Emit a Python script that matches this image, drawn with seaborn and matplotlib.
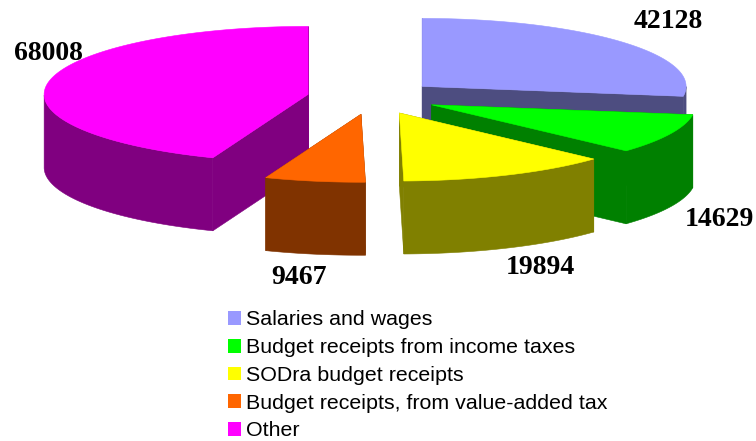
import numpy as np
import matplotlib.pyplot as plt
from matplotlib.patches import Patch
import seaborn as sns

categories = ['Salaries and wages', 'Budget receipts from income taxes', 'SODra budget receipts',
              'Budget receipts, from value-added tax', 'Other']
values = [42128, 14629, 19894, 9467, 68008]
top_colors = ['#9999FF', '#00FF00', '#FFFF00', '#FF6600', '#FF00FF']
side_colors = ['#4D4D80', '#008000', '#808000', '#803300', '#800080']

sns.set_theme(style='white')
plt.rcParams['font.family'] = ['Liberation Sans', 'DejaVu Sans']

# pie geometry in figure pixels
cx, cy = 372.5, 97.5
rx, ry = 264, 68
ex, ey = 65.5, 17  # how far slices are pulled out
depth = 73

fig, ax = plt.subplots(figsize=(7.56, 4.41), dpi=100)
ax.set_position([0, 0, 1, 1])
ax.set_xlim(0, 756)
ax.set_ylim(441, 0)
ax.axis('off')

top_pal = sns.color_palette(top_colors)
side_pal = sns.color_palette(side_colors)

# angles clockwise from north
edges = np.cumsum([0] + values) / sum(values) * 2 * np.pi


def px(a, x0, y0):
    return x0 + rx * np.sin(a), y0 - ry * np.cos(a)


def draw_slice(i):
    a0, a1 = edges[i], edges[i + 1]
    m = (a0 + a1) / 2
    x0 = cx + ex * np.sin(m)
    y0 = cy - ey * np.cos(m)
    t = np.linspace(a0, a1, 120)
    xs, ys = px(t, x0, y0)
    edge_kw = dict(color=side_pal[i], lw=0.4, zorder=i_z[i])

    # cut faces, the one further back first
    faces = sorted([a0, a1], key=lambda a: px(a, x0, y0)[1])
    for a in faces:
        fx, fy = px(a, x0, y0)
        ax.fill([x0, fx, fx, x0], [y0, fy, fy + depth, y0 + depth], **edge_kw)
    # outer wall, only the part that faces the viewer
    front = np.cos(t) <= 0
    if front.any():
        ax.fill(np.r_[xs[front], xs[front][::-1]], np.r_[ys[front], ys[front][::-1] + depth], **edge_kw)
    # top
    ax.fill(np.r_[x0, xs], np.r_[y0, ys], color=top_pal[i], lw=0.4, zorder=i_z[i])


# back slices first
order = [0, 4, 1, 3, 2]
i_z = {s: n + 2 for n, s in enumerate(order)}
for s in order:
    draw_slice(s)

# value labels
label_pos = [(668, 21), (719, 219), (540, 268), (299, 278), (48, 54)]
for v, (lx, ly) in zip(values, label_pos):
    ax.text(lx, ly, str(v), ha='center', va='center', fontsize=20, fontweight='bold',
            family='Liberation Serif', color='black', zorder=20)

handles = [Patch(facecolor=c, edgecolor='none') for c in top_pal]
leg = ax.legend(handles, categories, loc='upper left', bbox_to_anchor=(222 / 756, 1 - 304 / 441), frameon=False,
                fontsize=15.4, handlelength=0.61, handleheight=0.61, handletextpad=0.2, labelspacing=0.41,
                borderpad=0.3, borderaxespad=0)
for t in leg.get_texts():
    t.set_color('black')

fig.savefig('out.png', dpi=100)
